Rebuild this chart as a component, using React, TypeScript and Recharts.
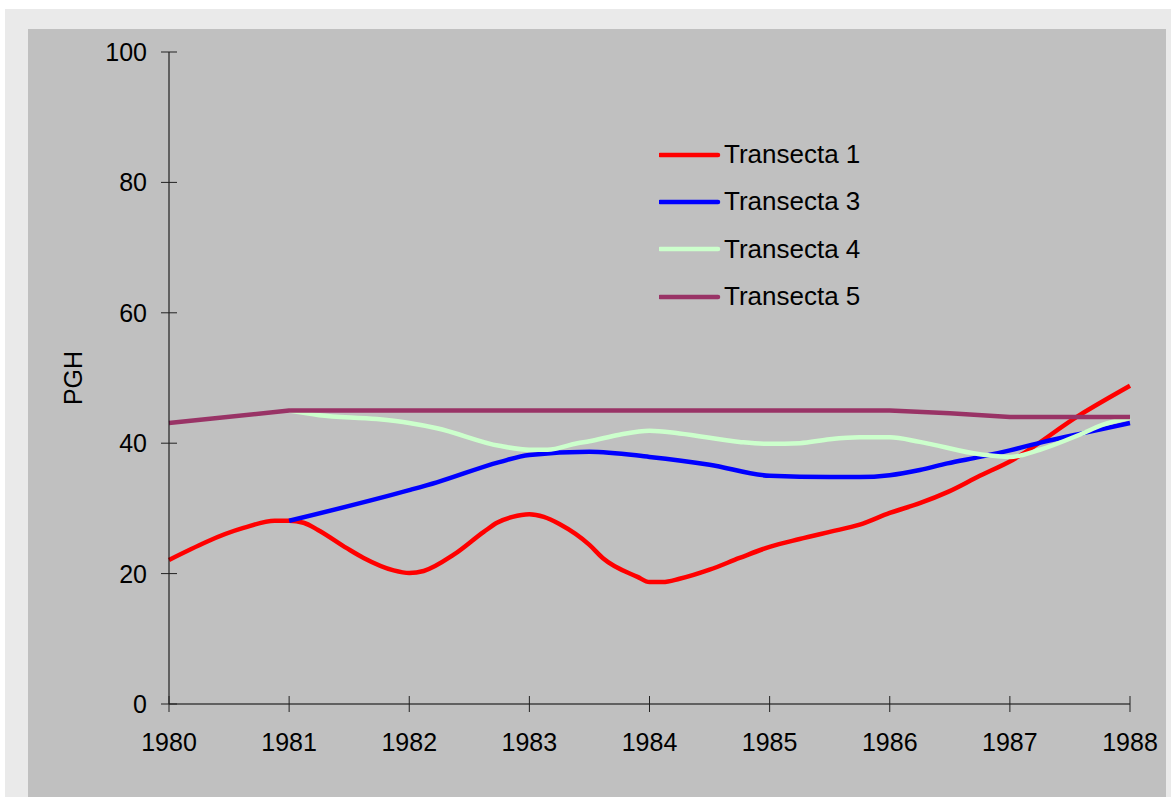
import { Line, LineChart, XAxis, YAxis } from 'recharts'

// Sampled positions (decimal years) and PGH values for each transect
const T1_YEARS = [
  1980, 1980.62, 1980.88, 1981, 1981.12, 1981.24, 1981.48, 1981.62, 1981.87, 1982, 1982.12,
  1982.37, 1982.62, 1982.73, 1982.86, 1983, 1983.12, 1983.25, 1983.5, 1983.61, 1983.9, 1984,
  1984.11, 1984.25, 1984.5, 1984.75, 1985, 1985.25, 1985.5, 1985.75, 1986, 1986.25, 1986.48,
  1986.75, 1987, 1987.58, 1988,
]
const T1_PGH = [
  22.1, 27.0, 28.1, 28.1, 27.8, 26.7, 23.9, 22.4, 20.5, 20.1, 20.4, 22.9, 26.4, 27.8, 28.7, 29.1,
  28.7, 27.6, 24.4, 22.4, 19.5, 18.7, 18.7, 19.2, 20.6, 22.4, 24.1, 25.3, 26.4, 27.5, 29.3, 30.8,
  32.5, 35.0, 37.2, 44.3, 48.8,
]

const T3_YEARS = [
  1981, 1982, 1982.23, 1982.75, 1983, 1983.5, 1984, 1984.5, 1985, 1985.5, 1985.75, 1986, 1986.25,
  1986.48, 1986.75, 1987, 1987.28, 1987.65, 1988,
]
const T3_PGH = [
  28.1, 32.8, 34.0, 37.1, 38.2, 38.7, 37.9, 36.7, 35.0, 34.8, 34.8, 35.1, 35.9, 36.9, 37.9, 38.9,
  40.2, 41.7, 43.1,
]

const T4_YEARS = [
  1981, 1981.25, 1981.73, 1982, 1982.23, 1982.75, 1983, 1983.15, 1983.4, 1983.5, 1983.75, 1984,
  1984.25, 1984.75, 1985, 1985.25, 1985.5, 1985.75, 1986, 1986.25, 1986.75, 1987, 1987.25,
  1987.58, 1987.77, 1988,
]
const T4_PGH = [
  45.0, 44.3, 43.7, 43.1, 42.3, 39.6, 39.0, 39.0, 40.0, 40.3, 41.3, 41.9, 41.5, 40.2, 39.9, 40.0,
  40.6, 40.9, 40.9, 40.2, 38.3, 37.9, 39.0, 41.3, 42.8, 43.9,
]

const T5_YEARS = [1980, 1981, 1982, 1983, 1984, 1985, 1986, 1986.5, 1987, 1988]
const T5_PGH = [43.1, 45, 45, 45, 45, 45, 45, 44.6, 44, 44]

const YEAR_TICKS = [1980, 1981, 1982, 1983, 1984, 1985, 1986, 1987, 1988]
const PGH_TICKS = [0, 20, 40, 60, 80, 100]

const zip = (years: number[], vals: number[]) => years.map((year, i) => ({ year, pgh: vals[i] }))

const SERIES = [
  { name: 'Transecta 1', color: '#ff0000', curve: 'monotone', data: zip(T1_YEARS, T1_PGH) },
  { name: 'Transecta 3', color: '#0000ff', curve: 'monotone', data: zip(T3_YEARS, T3_PGH) },
  { name: 'Transecta 4', color: '#ccffcc', curve: 'monotone', data: zip(T4_YEARS, T4_PGH) },
  { name: 'Transecta 5', color: '#993366', curve: 'linear', data: zip(T5_YEARS, T5_PGH) },
]

const FONT = '"Liberation Sans", Arial, sans-serif'
const TICK = 8

// y ticks cross the axis: outer half comes from tickLine, inner half drawn here
const YTick = (props: any) => {
  const { x, y, payload } = props
  const ax = x + TICK
  return (
    <g>
      <line x1={ax} x2={ax + TICK} y1={y} y2={y} stroke="#222" />
      <text x={ax - 22} y={y} textAnchor="end" dominantBaseline="central" fontSize={25} fill="#000" fontFamily={FONT}>
        {payload.value}
      </text>
    </g>
  )
}

const XTick = (props: any) => {
  const { x, y, payload } = props
  const ay = y - TICK
  return (
    <g>
      <line x1={x} x2={x} y1={ay} y2={ay - TICK} stroke="#222" />
      <text x={x} y={ay + 38} textAnchor="middle" dominantBaseline="central" fontSize={25} fill="#000" fontFamily={FONT}>
        {payload.value}
      </text>
    </g>
  )
}

// legend floats over the plot so it does not eat into the chart's height
const LegendBox = () => (
  <div style={{ position: 'absolute', left: 631, top: 102, fontFamily: FONT, fontSize: 26, color: '#000' }}>
    {SERIES.map((s) => (
      <div key={s.name} style={{ height: 47.3, display: 'flex', alignItems: 'center' }}>
        <svg width={66} height={10}>
          <line x1={1} x2={59} y1={5} y2={5} stroke={s.color} strokeWidth={4.5} strokeLinecap="round" />
        </svg>
        <span style={{ marginLeft: -1 }}>{s.name}</span>
      </div>
    ))}
  </div>
)

export default function App() {
  return (
    <div style={{ position: 'absolute', left: 0, top: 0, width: 1171, height: 797, background: '#fff', overflow: 'hidden' }}>
      <div style={{ position: 'absolute', left: 5, top: 9, width: 1166, height: 788, background: '#eaeaea' }} />
      <div style={{ position: 'absolute', left: 28, top: 29, width: 1138, height: 768, background: '#c0c0c0' }}>
        <LineChart width={1138} height={768} margin={{ top: 23, right: 36, left: 41, bottom: 33 }}>
          <XAxis
            dataKey="year"
            type="number"
            domain={[1980, 1988]}
            ticks={YEAR_TICKS}
            allowDuplicatedCategory={false}
            height={60}
            tickSize={TICK}
            tickMargin={0}
            stroke="#000"
            tickLine={{ stroke: '#222' }}
            tick={<XTick />}
          />
          <YAxis
            type="number"
            domain={[0, 100]}
            ticks={PGH_TICKS}
            width={100}
            tickSize={TICK}
            tickMargin={0}
            stroke="#000"
            tickLine={{ stroke: '#222' }}
            tick={<YTick />}
            label={{
              content: () => (
                <text x={45} y={349} transform="rotate(-90 45 349)" textAnchor="middle" dominantBaseline="central" fontSize={25} fill="#000" fontFamily={FONT}>
                  PGH
                </text>
              ),
            }}
          />
          {SERIES.map((s) => (
            <Line
              key={s.name}
              data={s.data}
              dataKey="pgh"
              name={s.name}
              type={s.curve as any}
              stroke={s.color}
              strokeWidth={4.5}
              dot={false}
              activeDot={false}
              isAnimationActive={false}
            />
          ))}
        </LineChart>
        <LegendBox />
      </div>
    </div>
  )
}
